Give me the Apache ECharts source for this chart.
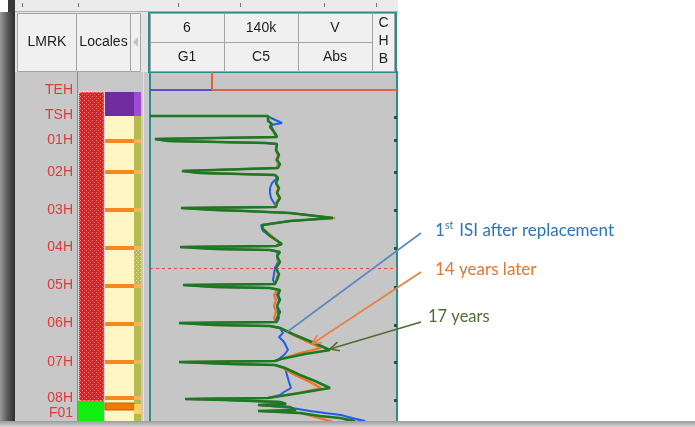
<!DOCTYPE html>
<html><head><meta charset="utf-8">
<script src="https://cdn.jsdelivr.net/npm/echarts@6/dist/echarts.min.js"></script>
<style>html,body{margin:0;padding:0;background:#fff}#c{width:695px;height:427px}</style>
</head><body><div id="c"></div><script>
// ---- data (amplitude units, position units along tube) ----
const landmarkNames = ['TEH','TSH','01H','02H','03H','04H','05H','06H','07H','08H','F01'];
const landmarkLabelPos = [-2,23,48,80,118,155,193,231,270,306,321];
const stripePos = [49,80,118,156,194,232,270,306];
const rightTickPos = [25,48,80,118,156,195,233,270,308];
const dashPos = 176;
const headerRow1 = ['6','140k','V'];
const headerRow2 = ['G1','C5','Abs'];
const sideHeaders = ['LMRK','Locales'];
const chbLetters = ['C','H','B'];

const greenTrace = [
[0,24],[118,24],[120,26],[118,29],[122,32],[120,35],[123,38],[125,42],[127,45],
[5,47],[18,49],[68,50],[116,51],[127,52],
[128,54],[126,58],[129,63],[127,68],[130,72],[128,76],[126,78],
[32,79],[50,81],[90,82],[125,83],
[128,86],[126,91],[129,96],[127,101],[130,106],[127,111],[126,115],
[31,116],[65,118],[95,119],[140,121],[183,126],[140,129],[113,133],[112,136],[120,144],[132,152],[126,154],
[30,155],[65,157],[120,158],[130,160],
[127,164],[130,170],[126,176],[129,182],[127,188],[125,192],
[33,193],[65,195],[120,196],[130,198],
[128,203],[130,208],[127,214],[130,220],[127,226],[126,230],
[29,231],[65,233],[120,234],[130,236],
[145,243],[162,250],[180,258],[155,262],[131,267],[125,269],
[29,270],[80,272],[125,273],[135,276],
[150,283],[165,289],[180,296],[150,301],[118,306],
[35,307],[75,308],[130,310],
[136,312],[108,313],[140,315],[146,318],[108,319],[150,321],[170,324],[190,326],[205,329],[185,331],[205,333]
];
const blueTrace = [
[0,24],[118,24],[121,26],[132,31],[121,33],[123,38],[126,42],[127,45],
[5,47],[18,49],[68,50],[116,51],[127,52],
[127,54],[126,58],[128,63],[127,68],[128,72],[127,76],[126,78],
[32,79],[50,81],[90,82],[125,83],
[127,86],[122,91],[120,96],[120,101],[121,106],[124,111],[126,115],
[31,116],[65,118],[95,119],[140,121],[183,126],[140,129],[111,133],[109,135],[113,139],[120,144],[130,151],[126,154],
[30,155],[65,157],[120,158],[128,160],
[127,164],[128,170],[125,176],[124,182],[123,188],[125,192],
[33,193],[65,195],[120,196],[128,198],
[127,203],[129,208],[127,214],[128,220],[129,226],[127,230],
[29,231],[65,233],[120,234],[130,236],
[133,241],[129,245],[134,250],[138,258],[134,263],[129,267],[125,269],
[29,270],[80,272],[125,273],[135,276],
[137,283],[139,290],[141,296],[134,300],[130,303],[118,306],
[35,307],[75,308],[130,310],
[136,312],[108,313],[142,316],[160,319],[175,321],[191,323],[202,326],[215,329],[195,331]
];
const orangeTrace = [
[0,24],[118,24],[120,26],[119,29],[121,32],[120,35],[122,38],[125,42],[127,45],
[5,47],[18,49],[68,50],[116,51],[127,52],
[127,54],[126,58],[128,63],[126,68],[129,72],[126,76],[124,78],
[32,79],[50,81],[90,82],[125,83],
[128,86],[126,91],[128,96],[127,101],[129,106],[126,111],[125,115],
[31,116],[65,118],[95,119],[140,121],[185,126],[140,129],[113,133],[112,136],[122,144],[130,151],[126,154],
[30,155],[65,157],[120,158],[130,160],
[127,164],[129,170],[126,176],[128,182],[126,188],[125,192],
[33,193],[65,195],[120,196],[128,198],
[124,203],[126,208],[124,214],[126,220],[124,226],[126,230],
[29,231],[65,233],[120,234],[130,236],
[143,243],[158,250],[171,256],[150,261],[131,267],[125,269],
[29,270],[80,272],[125,273],[133,276],
[145,283],[158,289],[171,296],[148,301],[118,306],
[35,307],[75,308],[130,310],
[136,312],[108,313],[140,315],[146,318],[108,319],[150,321],[165,325],[180,329],[191,333]
];
const annotations = [
  {text:'1', sup:'st', rest:' ISI after replacement', color:'#2e74b5', lineColor:'#5b88c2', target:[137,240], arrow:false},
  {text:'14 years later', color:'#e5772e', lineColor:'#e8803c', target:[162,252], arrow:true},
  {text:'17 years', color:'#4f6c31', lineColor:'#4f6c31', target:[180,257], arrow:true}
];

// ---- helpers ----
function dotPattern(bg, dot, size){
  const c=document.createElement('canvas'); c.width=c.height=size;
  const g=c.getContext('2d'); g.fillStyle=bg; g.fillRect(0,0,size,size);
  g.fillStyle=dot; g.fillRect(0,0,1,1); g.fillRect(size/2,size/2,1,1); return c;
}
const redPat = {image: dotPattern('#f01818','#ff8a8a',4), repeat:'repeat'};
const olivePat = {image: dotPattern('#b8bb52','#e6e6a0',4), repeat:'repeat'};

function area(x1,y1,x2,y2,style){ return [{coord:[x1,y1], itemStyle:style},{coord:[x2,y2]}]; }

const locAreas = [
  area(1,0,26,309,{color:redPat, borderColor:'#ffffff', borderWidth:1, borderType:'dotted'}),
  area(0,309,26,335,{color:'#10f010'}),
  area(27,24,56,335,{color:'#fff6c4'}),
  area(27,0,56,24,{color:'#6e2c9e'}),
  area(56,0,63,24,{color:'#9c4cd4'}),
  area(56,24,63,335,{color:'#b6b94e'}),
  area(56,158,63,192,{color:olivePat}),
  area(27,311,56,318,{color:'#f07a08', borderColor:'#c86000', borderWidth:1}),
  area(56,312,63,322,{color:'#ffd060'})
];
stripePos.forEach(p=>{
  locAreas.push(area(27,p-2,56,p+2,{color:'#f7881c'}));
  locAreas.push(area(56,p-2,63,p+2,{color:'#f0b45a'}));
});

const FONT='Liberation Sans';
const graphics = [
  // top strip
  {type:'rect', shape:{x:15,y:0,width:383,height:12}, style:{fill:'#ebebeb'}},
  {type:'line', shape:{x1:15,y1:11.5,x2:398,y2:11.5}, style:{stroke:'#b0b0b0'}},
  ...[22,78,178,240,324,376].map(x=>({type:'rect', shape:{x:x,y:3,width:1,height:4}, style:{fill:'#777'}})),
  // left dark bar
  {type:'rect', shape:{x:0,y:12,width:15,height:412}, style:{fill:new echarts.graphic.LinearGradient(0,0,1,0,[{offset:0,color:'#9a9a9a'},{offset:0.5,color:'#5a5a5a'},{offset:1,color:'#2c2c2c'}])}},
  {type:'rect', shape:{x:8,y:0,width:7,height:12}, style:{fill:'#3a3a3a'}},
  // header left
  {type:'rect', shape:{x:15,y:12,width:133,height:60}, style:{fill:'#e4e4e4'}},
  {type:'rect', shape:{x:17.5,y:13.5,width:59,height:58}, style:{fill:'#f0f0f0', stroke:'#a4a4a4'}},
  {type:'rect', shape:{x:76.5,y:13.5,width:54,height:58}, style:{fill:'#f0f0f0', stroke:'#a4a4a4'}},
  {type:'rect', shape:{x:130.5,y:13.5,width:10,height:58}, style:{fill:'#f0f0f0', stroke:'#a4a4a4'}},
  {type:'polygon', shape:{points:[[133,42],[138,37],[138,47]]}, style:{fill:'#c4c4c4'}},
  {type:'text', style:{text:sideHeaders[0], x:47, y:42, align:'center', verticalAlign:'middle', font:'14px '+FONT, fill:'#1e1e1e'}},
  {type:'text', style:{text:sideHeaders[1], x:103.5, y:42, align:'center', verticalAlign:'middle', font:'14px '+FONT, fill:'#1e1e1e'}},
  // label / locales background
  {type:'rect', shape:{x:15,y:72,width:134,height:350}, style:{fill:'#c8c8c8'}},
  {type:'line', shape:{x1:77.5,y1:72,x2:77.5,y2:422}, style:{stroke:'#5f9c9c'}},
  {type:'line', shape:{x1:143.5,y1:72,x2:143.5,y2:422}, style:{stroke:'#e2e2e2'}},
  // panel header
  {type:'rect', shape:{x:149,y:13,width:247,height:59}, style:{fill:'#f0f0f0', stroke:'#2b8c8c', lineWidth:2}},
  ...[0,1,2].map(i=>({type:'rect', shape:{x:150.5+74*i,y:13.5,width:74,height:29}, style:{fill:'#f0f0f0', stroke:'#a4a4a4'}})),
  ...[0,1,2].map(i=>({type:'rect', shape:{x:150.5+74*i,y:42.5,width:74,height:29}, style:{fill:'#f0f0f0', stroke:'#a4a4a4'}})),
  {type:'rect', shape:{x:372.5,y:13.5,width:22,height:58}, style:{fill:'#f0f0f0', stroke:'#a4a4a4'}},
  ...headerRow1.map((t,i)=>({type:'text', style:{text:t, x:187+74*i, y:28, align:'center', verticalAlign:'middle', font:'14px '+FONT, fill:'#1e1e1e'}})),
  ...headerRow2.map((t,i)=>({type:'text', style:{text:t, x:187+74*i, y:57, align:'center', verticalAlign:'middle', font:'14px '+FONT, fill:'#1e1e1e'}})),
  ...chbLetters.map((t,i)=>({type:'text', style:{text:t, x:383.5, y:23+18*i, align:'center', verticalAlign:'middle', font:'14px '+FONT, fill:'#1e1e1e'}})),
  // bottom strip
  {type:'rect', z:100, shape:{x:0,y:421,width:695,height:6}, style:{fill:new echarts.graphic.LinearGradient(0,0,0,1,[{offset:0,color:'#9c9c9c'},{offset:1,color:'#d4d4d4'}])}}
];

const chart = echarts.init(document.getElementById('c'), null, {renderer:'canvas'});
const yBase = {type:'value', min:-20, max:335, inverse:true, splitLine:{show:false}};
const option = {
  animation:false,
  backgroundColor:'#ffffff',
  grid:[
    {left:78, top:72, width:63, height:355, show:false},
    {left:150, top:72, width:247, height:355, show:true, backgroundColor:'#c6c6c6', borderColor:'#2b8c8c', borderWidth:2}
  ],
  xAxis:[
    {gridIndex:0, type:'value', min:0, max:63, show:false},
    {gridIndex:1, type:'value', min:0, max:247, show:false}
  ],
  yAxis:[
    Object.assign({}, yBase, {gridIndex:0, position:'left', axisLine:{show:false, onZero:false}, axisTick:{show:false},
      axisLabel:{show:true, customValues:landmarkLabelPos, margin:5, color:'#df3a3a', fontSize:14, fontFamily:FONT,
        formatter:(v)=>landmarkNames[landmarkLabelPos.indexOf(v)]}}),
    Object.assign({}, yBase, {gridIndex:1, position:'right', axisLine:{show:true, onZero:false, lineStyle:{color:'#2b8c8c', width:2}},
      axisTick:{show:true, inside:true, length:3, customValues:rightTickPos, lineStyle:{color:'#145c3c', width:3}},
      axisLabel:{show:false}})
  ],
  series:[
    {type:'line', xAxisIndex:0, yAxisIndex:0, data:[[0,-20]], symbol:'none', silent:true,
      markArea:{silent:true, data:locAreas}},
    {type:'line', xAxisIndex:1, yAxisIndex:1, data:[[0,-20]], symbol:'none', silent:true,
      markLine:{silent:true, symbol:'none', label:{show:false}, data:[
        [{coord:[0,-2], lineStyle:{color:'#5a4fc8', width:2, type:'solid'}},{coord:[62,-2]}],
        [{coord:[62,-2], lineStyle:{color:'#e0643c', width:2, type:'solid'}},{coord:[247,-2]}],
        [{coord:[62,-20], lineStyle:{color:'#e0643c', width:2, type:'solid'}},{coord:[62,-2]}],
        {yAxis:dashPos, lineStyle:{color:'#e04848', width:1.2, type:[3,3]}}
      ]}},
    {name:'1st ISI', type:'line', xAxisIndex:1, yAxisIndex:1, data:blueTrace, symbol:'none', z:3,
      lineStyle:{color:'#1f5fe8', width:2}},
    {name:'14 years', type:'line', xAxisIndex:1, yAxisIndex:1, data:orangeTrace, symbol:'none', z:4,
      lineStyle:{color:'#f07424', width:2.2}},
    {name:'17 years', type:'line', xAxisIndex:1, yAxisIndex:1, data:greenTrace, symbol:'none', z:5,
      lineStyle:{color:'#1a7a22', width:2.5}}
  ],
  graphic:graphics
};
chart.setOption(option);

// annotations (layout in pixels, arrow tips from data)
const starts = [[421,233],[421,272],[421,322]];
const textPos = [[435,230.5],[435,269.5],[428,316.5]];
const ANN_FONT = 'Lato';
const ag = [];
annotations.forEach((a,i)=>{
  const tip = chart.convertToPixel({gridIndex:1}, a.target);
  const s = starts[i];
  ag.push({type:'line', z:100, shape:{x1:s[0],y1:s[1],x2:tip[0],y2:tip[1]}, style:{stroke:a.lineColor, lineWidth:1.6}});
  if(a.arrow){
    const dx=tip[0]-s[0], dy=tip[1]-s[1], L=Math.hypot(dx,dy), ux=dx/L, uy=dy/L;
    const bx=tip[0]-ux*9, by=tip[1]-uy*9;
    ag.push({type:'polyline', z:100, shape:{points:[[bx-uy*4.5,by+ux*4.5],[tip[0],tip[1]],[bx+uy*4.5,by-ux*4.5]]}, style:{stroke:a.lineColor, lineWidth:1.6, fill:null}});
  }
  const p = textPos[i];
  if(a.sup){
    ag.push({type:'text', z:100, style:{text:a.text, x:p[0], y:p[1], verticalAlign:'middle', font:'17px '+ANN_FONT, fill:a.color}});
    ag.push({type:'text', z:100, style:{text:a.sup, x:p[0]+10, y:p[1]-5, verticalAlign:'middle', font:'10.5px '+ANN_FONT, fill:a.color}});
    ag.push({type:'text', z:100, style:{text:a.rest, x:p[0]+20, y:p[1], verticalAlign:'middle', font:'17px '+ANN_FONT, fill:a.color}});
  } else {
    ag.push({type:'text', z:100, style:{text:a.text, x:p[0], y:p[1], verticalAlign:'middle', font:(i===2?'16.5px ':'17px ')+ANN_FONT, fill:a.color}});
  }
});
chart.setOption({graphic: graphics.concat(ag)});
</script></body></html>
